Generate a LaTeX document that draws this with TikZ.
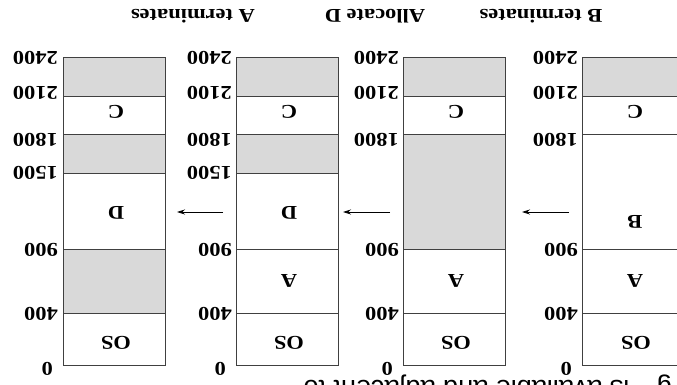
\documentclass[tikz,border=0pt]{standalone}
\usepackage{fontspec}
\setmainfont{Liberation Serif}[FakeStretch=1.15]
\newfontfamily\notesans{Liberation Sans}
\usetikzlibrary{arrows.meta}
\definecolor{holegray}{HTML}{D9D9D9}
\begin{document}
\begin{tikzpicture}[x=1pt,y=-1pt,
  txt/.style={font=\fontsize{19.5}{22}\selectfont\bfseries, rotate=180, inner sep=0pt},
  addr/.style={txt, anchor=west},
  region/.style={draw=black!75, line width=0.75pt},
  hole/.style={region, fill=holegray},
  seg/.style={region, fill=white},
  move/.style={-{Stealth[length=8pt,width=5pt]}, line width=0.75pt}]
\clip (0,0) rectangle (677,385);
\fill[white] (0,0) rectangle (677,385);

% ---------- column 1 (x 63-165) ----------
\draw[hole] (63,57.8) rectangle (165,96.2);
\draw[seg]  (63,96.2) rectangle (165,134.6);
\draw[hole] (63,134.6) rectangle (165,173);
\draw[seg]  (63,173) rectangle (165,249.8);
\draw[hole] (63,249.8) rectangle (165,313.8);
\draw[seg]  (63,313.8) rectangle (165,365);
\node[txt] (c1C) at (116,112) {C};
\node[txt] (c1D) at (116,213) {D};
\node[txt] (c1OS) at (116,343) {OS};
\node[addr] (c1a) at (58,58.3) {2400};
\node[addr] (c1b) at (58,92.5) {2100};
\node[addr] (c1c) at (58,139.5) {1800};
\node[addr] (c1d) at (58,173.3) {1500};
\node[addr] (c1e) at (58,250) {900};
\node[addr] (c1f) at (58,314) {400};
\node[addr] (c1g) at (53,369) {0};

% ---------- column 2 (x 236-338) ----------
\draw[hole] (236,57.8) rectangle (338,96.2);
\draw[seg]  (236,96.2) rectangle (338,134.6);
\draw[hole] (236,134.6) rectangle (338,173);
\draw[seg]  (236,173) rectangle (338,249.8);
\draw[seg]  (236,249.8) rectangle (338,313.8);
\draw[seg]  (236,313.8) rectangle (338,365);
\node[txt] (c2C) at (289,112) {C};
\node[txt] (c2D) at (289,213) {D};
\node[txt] (c2A) at (289,281) {A};
\node[txt] (c2OS) at (289,343) {OS};
\node[addr] (c2a) at (232,58.3) {2400};
\node[addr] (c2b) at (232,92.5) {2100};
\node[addr] (c2c) at (232,139.5) {1800};
\node[addr] (c2d) at (232,173.3) {1500};
\node[addr] (c2e) at (232,250) {900};
\node[addr] (c2f) at (232,314) {400};
\node[addr] (c2g) at (226,369) {0};

% ---------- column 3 (x 403-505) ----------
\draw[hole] (403,57.8) rectangle (505,96.2);
\draw[seg]  (403,96.2) rectangle (505,134.6);
\draw[hole] (403,134.6) rectangle (505,249.8);
\draw[seg]  (403,249.8) rectangle (505,313.8);
\draw[seg]  (403,313.8) rectangle (505,365);
\node[txt] (c3C) at (456,112) {C};
\node[txt] (c3A) at (456,281) {A};
\node[txt] (c3OS) at (456,343) {OS};
\node[addr] (c3a) at (399,58.3) {2400};
\node[addr] (c3b) at (399,92.5) {2100};
\node[addr] (c3c) at (399,139.5) {1800};
\node[addr] (c3e) at (399,250) {900};
\node[addr] (c3f) at (399,314) {400};
\node[addr] (c3g) at (393,369) {0};

% ---------- column 4 (x 582-684, cut by the edge) ----------
\draw[hole] (582,57.8) rectangle (684,96.2);
\draw[seg]  (582,96.2) rectangle (684,134.6);
\draw[seg]  (582,134.6) rectangle (684,249.8);
\draw[seg]  (582,249.8) rectangle (684,313.8);
\draw[seg]  (582,313.8) rectangle (684,365);
\node[txt] (c4C) at (635,112) {C};
\node[txt] (c4B) at (635,222) {B};
\node[txt] (c4A) at (635,281) {A};
\node[txt] (c4OS) at (636,343) {OS};
\node[addr] (c4a) at (578,58.3) {2400};
\node[addr] (c4b) at (578,92.5) {2100};
\node[addr] (c4c) at (578,139.5) {1800};
\node[addr] (c4e) at (578,250) {900};
\node[addr] (c4f) at (578,314) {400};
\node[addr] (c4g) at (572,369) {0};

% ---------- transitions ----------
\coordinate (t1) at (223,212); \coordinate (h1) at (177,212);
\coordinate (t2) at (390,212); \coordinate (h2) at (343,212);
\coordinate (t3) at (569,212); \coordinate (h3) at (522,212);
\draw[move] (t1) -- (h1);
\draw[move] (t2) -- (h2);
\draw[move] (t3) -- (h3);
\node[txt] (ev1) at (193,16.5) {A terminates};
\node[txt] (ev2) at (375,16.5) {Allocate D};
\node[txt] (ev3) at (541,16.5) {B terminates};

% ---------- cut-off caption ----------
\node[rotate=180, anchor=base west, inner sep=0pt,
      font=\notesans\fontsize{27}{30}\selectfont] (note) at (672,380.5)
      {g\hspace{20pt} is available and adjacent to};
\end{tikzpicture}
\end{document}
